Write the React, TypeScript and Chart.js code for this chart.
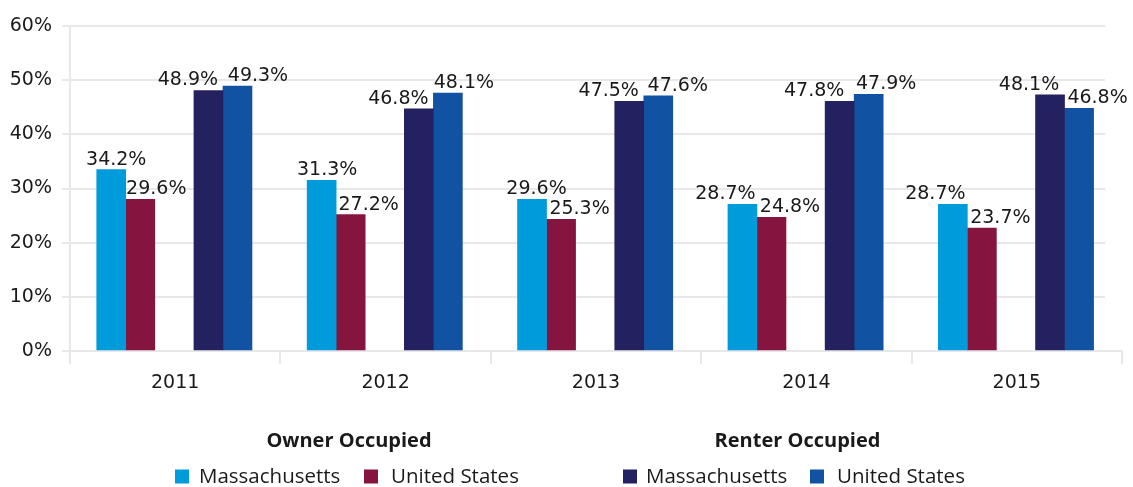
import React, { useEffect, useRef } from "react";
import { Chart, registerables } from "chart.js";

Chart.register(...registerables);

const years = ["2011", "2012", "2013", "2014", "2015"];
const yTicks = [0, 10, 20, 30, 40, 50, 60];

// bar heights as drawn in the picture (%)
const ownerMA = [33.5, 31.5, 28.0, 27.1, 27.1];
const ownerUS = [28.0, 25.2, 24.3, 24.7, 22.7];
const renterMA = [48.1, 44.7, 46.1, 46.1, 47.3];
const renterUS = [48.9, 47.6, 47.1, 47.4, 44.8];

// value labels printed above the bars (%)
const ownerMALabels = [34.2, 31.3, 29.6, 28.7, 28.7];
const ownerUSLabels = [29.6, 27.2, 25.3, 24.8, 23.7];
const renterMALabels = [48.9, 46.8, 47.5, 47.8, 48.1];
const renterUSLabels = [49.3, 48.1, 47.6, 47.9, 46.8];

const groupTitles = ["Owner Occupied", "Renter Occupied"];
const seriesNames = ["Massachusetts", "United States", "Massachusetts", "United States"];

const COLORS = ["#009bdb", "#85143e", "#242161", "#1252a3"];
const GRID = "#e8e8ea";
const TEXT = "#1a1a1a";
const NUM_FONT = "'DejaVu Sans', sans-serif";
const LEG_FONT = "'Open Sans', sans-serif";

// position of each series' bar inside its category (fraction of category width)
const SLOT = [0.196, 0.334, 0.658, 0.796];
// horizontal nudges of the value labels relative to the bar centre (px)
const LABEL_DX = [
  [5, 5.5, 4.5, -17, -17.5],
  [16, 18, 18.5, 18.5, 18.5],
  [-20.5, -20.5, -20.5, -25.5, -21],
  [20.5, 16, 19.5, 17.5, 18.5],
];

const values = [ownerMA, ownerUS, renterMA, renterUS];
const labels = [ownerMALabels, ownerUSLabels, renterMALabels, renterUSLabels];

const decorPlugin = {
  id: "decor",
  beforeDatasetsDraw(chart: any) {
    const { ctx, chartArea, scales } = chart;
    const y = scales.y;
    ctx.save();
    ctx.strokeStyle = GRID;
    ctx.lineWidth = 2;
    yTicks.forEach((t) => {
      if (t === 0) return;
      const py = Math.round(y.getPixelForValue(t));
      ctx.beginPath();
      ctx.moveTo(chartArea.left, py);
      ctx.lineTo(chartArea.right - 17, py);
      ctx.stroke();
    });
    ctx.restore();
  },
  afterDatasetsDraw(chart: any) {
    const { ctx, scales } = chart;
    ctx.save();
    ctx.fillStyle = TEXT;
    ctx.font = `19px ${NUM_FONT}`;
    ctx.textAlign = "center";
    ctx.textBaseline = "alphabetic";
    chart.data.datasets.forEach((ds: any, di: number) => {
      const meta = chart.getDatasetMeta(di);
      meta.data.forEach((el: any, i: number) => {
        const txt = labels[di][i].toFixed(1) + "%";
        ctx.fillText(txt, el.x + LABEL_DX[di][i], el.y - 5);
      });
    });
    // category labels
    years.forEach((yr, i) => {
      ctx.fillText(yr, scales.x.getPixelForValue(i + 0.5), 388);
    });
    ctx.restore();
  },
  afterDraw(chart: any) {
    const { ctx } = chart;
    ctx.save();
    ctx.fillStyle = TEXT;
    ctx.textBaseline = "alphabetic";
    ctx.textAlign = "center";
    ctx.font = `bold 20px ${LEG_FONT}`;
    ctx.fillText(groupTitles[0], 349, 447);
    ctx.fillText(groupTitles[1], 797.5, 447);
    ctx.font = `20.5px ${LEG_FONT}`;
    ctx.textAlign = "left";
    const items = [
      { sq: 175, tx: 199 },
      { sq: 364, tx: 391 },
      { sq: 623, tx: 646 },
      { sq: 810, tx: 837 },
    ];
    items.forEach((it, k) => {
      ctx.fillStyle = COLORS[k];
      ctx.fillRect(it.sq, 469.5, 14, 14);
      ctx.fillStyle = TEXT;
      ctx.fillText(seriesNames[k], it.tx, 483);
    });
    ctx.restore();
  },
};

export default function App() {
  const ref = useRef<HTMLCanvasElement | null>(null);
  useEffect(() => {
    if (!ref.current) return;
    const datasets = values.map((arr, k) => ({
      label: seriesNames[k],
      data: arr.map((v, i) => ({ x: i + SLOT[k], y: v })),
      backgroundColor: COLORS[k],
      borderWidth: 0,
      barThickness: 29,
      grouped: false,
    }));
    const chart = new Chart(ref.current, {
      type: "bar",
      data: { datasets },
      plugins: [decorPlugin],
      options: {
        animation: false,
        responsive: false,
        maintainAspectRatio: false,
        layout: { padding: { top: 26, right: 11, left: 0, bottom: 0 } },
        plugins: { legend: { display: false }, tooltip: { enabled: false } },
        scales: {
          x: {
            type: "linear",
            offset: false,
            min: 0,
            max: years.length,
            afterBuildTicks: (scale: any) => {
              scale.ticks = years.map((_, i) => ({ value: i })).concat([{ value: years.length }]);
            },
            afterFit: (scale: any) => {
              scale.height = 136;
            },
            ticks: { display: true, callback: () => "", font: { size: 1 } },
            grid: {
              offset: false,
              drawOnChartArea: false,
              drawTicks: true,
              tickLength: 13,
              color: GRID,
              lineWidth: 2,
            },
            border: { display: true, color: GRID, width: 2 },
          },
          y: {
            min: 0,
            max: 60,
            afterBuildTicks: (scale: any) => {
              scale.ticks = yTicks.map((v) => ({ value: v }));
            },
            afterFit: (scale: any) => {
              scale.width = 70;
            },
            ticks: {
              color: TEXT,
              padding: 10,
              font: { family: NUM_FONT, size: 19 },
              callback: (v: any) => v + "%",
            },
            grid: {
              drawOnChartArea: false,
              drawTicks: true,
              tickLength: 8,
              color: GRID,
              lineWidth: 2,
            },
            border: { display: true, color: GRID, width: 2 },
          },
        },
      },
    });
    return () => chart.destroy();
  }, []);
  return (
    <div style={{ position: "absolute", left: 0, top: 0, width: 1133, height: 487, background: "#fff" }}>
      <canvas ref={ref} width={1133} height={487} style={{ display: "block" }} />
    </div>
  );
}
